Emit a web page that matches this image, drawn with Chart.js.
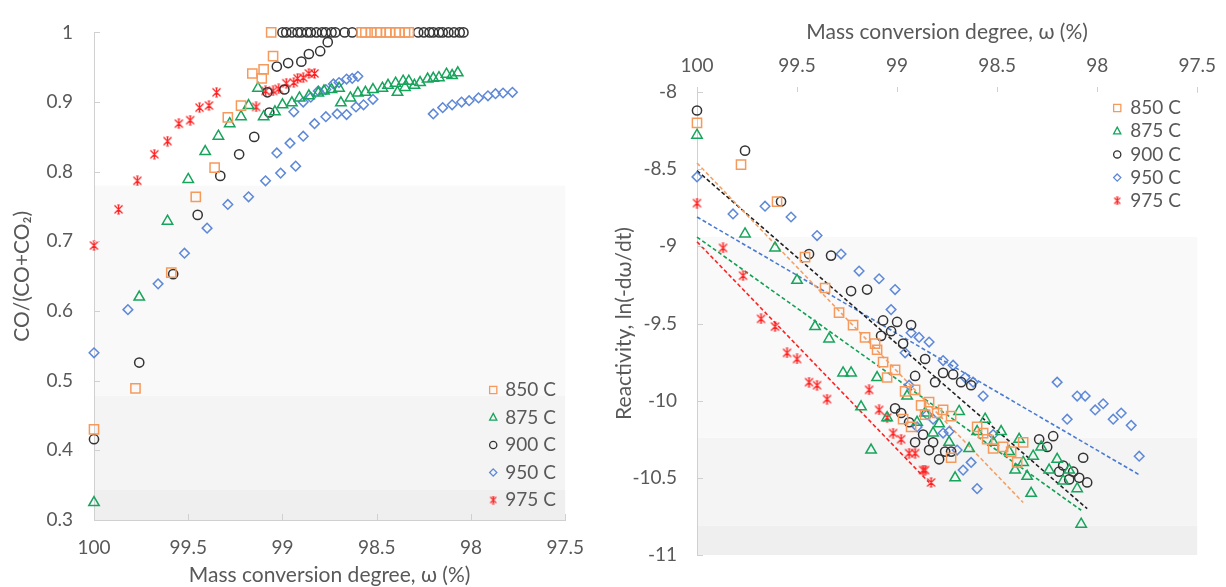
<!DOCTYPE html>
<html>
<head>
<meta charset="utf-8">
<script src="https://cdn.jsdelivr.net/npm/chart.js@4.4.1/dist/chart.umd.min.js"></script>
<style>
  html, body { margin: 0; padding: 0; background: #fff; }
  #wrap { position: relative; width: 1226px; height: 587px; }
  .panel { position: absolute; top: 0; }
</style>
</head>
<body>
<div id="wrap">
  <div class="panel" style="left:0;width:600px;height:587px"><canvas id="left" width="600" height="587"></canvas></div>
  <div class="panel" style="left:600px;width:626px;height:587px"><canvas id="right" width="626" height="587"></canvas></div>
</div>
<script>
// ---- series names ----
const series = ['850 C', '875 C', '900 C', '950 C', '975 C'];

// ---- left panel: CO/(CO+CO2) vs mass conversion degree ----
const co850x = [100, 99.78, 99.59, 99.46, 99.36, 99.29, 99.22, 99.16, 99.11, 99.10, 99.05, 99.06,
  98.58, 98.56, 98.53, 98.50, 98.48, 98.45, 98.43, 98.40, 98.38, 98.35, 98.33];
const co850y = [0.430, 0.489, 0.655, 0.764, 0.806, 0.878, 0.895, 0.941, 0.934, 0.947, 0.966, 1,
  1, 1, 1, 1, 1, 1, 1, 1, 1, 1, 1];

const co875x = [100, 99.76, 99.61, 99.50, 99.41, 99.34, 99.28, 99.22, 99.18, 99.13, 99.10, 99.04, 99.00, 98.95,
  98.91, 98.86, 98.81, 98.78, 98.74, 98.70, 98.69, 98.64, 98.60, 98.56, 98.52, 98.47, 98.44, 98.40, 98.39,
  98.36, 98.35, 98.33, 98.30, 98.27, 98.23, 98.20, 98.17, 98.13, 98.10, 98.07];
const co875y = [0.325, 0.620, 0.729, 0.789, 0.829, 0.851, 0.869, 0.879, 0.895, 0.920, 0.879, 0.886, 0.896, 0.899,
  0.906, 0.909, 0.913, 0.916, 0.918, 0.920, 0.899, 0.906, 0.913, 0.914, 0.918, 0.920, 0.924, 0.927, 0.914,
  0.930, 0.921, 0.930, 0.924, 0.928, 0.933, 0.934, 0.935, 0.940, 0.938, 0.942];

const co900x = [100, 99.76, 99.58, 99.45, 99.33, 99.23, 99.15, 99.07, 99.08, 98.99, 99.03, 98.97, 98.90, 98.86,
  98.80, 98.76, 99.00, 98.98, 98.95, 98.92, 98.90, 98.87, 98.85, 98.82, 98.79, 98.77, 98.74, 98.72, 98.67,
  98.63, 98.28, 98.25, 98.22, 98.20, 98.17, 98.15, 98.12, 98.09, 98.06, 98.04];
const co900y = [0.416, 0.526, 0.653, 0.738, 0.794, 0.825, 0.850, 0.885, 0.914, 0.918, 0.951, 0.956, 0.958, 0.969,
  0.973, 0.986, 1, 1, 1, 1, 1, 1, 1, 1, 1, 1, 1, 1, 1,
  1, 1, 1, 1, 1, 1, 1, 1, 1, 1, 1];

const co950x = [100, 99.82, 99.66, 99.52, 99.40, 99.29, 99.18, 99.09, 99.01, 98.93,
  99.03, 98.96, 98.89, 98.83, 98.77, 98.71, 98.66, 98.61, 98.57, 98.52,
  98.94, 98.89, 98.85, 98.81, 98.77, 98.73, 98.70, 98.66, 98.63, 98.60,
  98.20, 98.15, 98.10, 98.05, 98.01, 97.96, 97.91, 97.87, 97.83, 97.78];
const co950y = [0.540, 0.602, 0.639, 0.683, 0.719, 0.753, 0.764, 0.787, 0.798, 0.808,
  0.827, 0.841, 0.851, 0.869, 0.879, 0.883, 0.882, 0.893, 0.896, 0.904,
  0.886, 0.900, 0.907, 0.916, 0.918, 0.926, 0.928, 0.933, 0.934, 0.937,
  0.883, 0.892, 0.896, 0.900, 0.902, 0.906, 0.909, 0.912, 0.913, 0.914];

const co975x = [100, 99.87, 99.77, 99.68, 99.61, 99.55, 99.49, 99.44, 99.39, 99.35,
  99.14, 99.09, 99.05, 99.02, 98.98, 98.94, 98.92, 98.89, 98.86, 98.83];
const co975y = [0.694, 0.746, 0.787, 0.825, 0.844, 0.869, 0.874, 0.892, 0.895, 0.914,
  0.893, 0.916, 0.916, 0.919, 0.927, 0.928, 0.934, 0.935, 0.941, 0.941];

// ---- right panel: reactivity ln(-dw/dt) vs mass conversion degree ----
const re850x = [100, 99.78, 99.60, 99.46, 99.36, 99.29, 99.22, 99.16, 99.11, 99.10, 99.07, 99.01, 99.05, 98.96,
  98.91, 98.97, 98.93, 98.88, 98.84, 98.86, 98.80, 98.77, 98.73, 98.73, 98.60, 98.57, 98.55, 98.52, 98.47,
  98.43, 98.40, 98.37];
const re850y = [-8.20, -8.47, -8.71, -9.07, -9.27, -9.43, -9.51, -9.59, -9.63, -9.67, -9.75, -9.80, -9.85, -9.94,
  -9.93, -10.12, -10.17, -10.03, -10.01, -10.09, -10.08, -10.06, -10.10, -10.37, -10.17, -10.21, -10.25, -10.31, -10.30,
  -10.33, -10.40, -10.27];

const re875x = [100, 99.76, 99.61, 99.50, 99.41, 99.34, 99.27, 99.23, 99.10, 99.18, 99.05, 99.13, 98.95, 98.90,
  98.86, 98.82, 98.79, 98.74, 98.71, 98.69, 98.64, 98.60, 98.56, 98.52, 98.48, 98.44, 98.39, 98.41, 98.37,
  98.35, 98.33, 98.32, 98.28, 98.24, 98.20, 98.17, 98.14, 98.10, 98.08];
const re875y = [-8.28, -8.92, -9.01, -9.22, -9.52, -9.60, -9.82, -9.82, -9.85, -10.04, -10.11, -10.32, -9.97, -10.14,
  -10.08, -10.21, -10.15, -10.27, -10.50, -10.07, -10.31, -10.20, -10.12, -10.27, -10.20, -10.33, -10.25, -10.45, -10.40,
  -10.49, -10.60, -10.36, -10.30, -10.45, -10.38, -10.52, -10.45, -10.57, -10.80];

const re900x = [100, 99.76, 99.58, 99.44, 99.33, 99.23, 99.15, 99.07, 99.00, 98.93,
  99.03, 99.08, 98.97, 98.86, 98.91, 98.77, 98.72, 98.81, 98.68, 98.63,
  99.01, 98.98, 98.94, 98.91, 98.87, 98.84, 98.82, 98.79, 98.76, 98.73,
  98.29, 98.22, 98.25, 98.17, 98.19, 98.12, 98.14, 98.09, 98.07, 98.05];
const re900y = [-8.12, -8.38, -8.71, -9.05, -9.06, -9.29, -9.28, -9.48, -9.49, -9.51,
  -9.55, -9.58, -9.63, -9.73, -9.84, -9.82, -9.83, -9.88, -9.88, -9.90,
  -10.05, -10.08, -10.14, -10.27, -10.22, -10.32, -10.27, -10.38, -10.33, -10.33,
  -10.25, -10.23, -10.30, -10.42, -10.46, -10.46, -10.51, -10.50, -10.37, -10.53];

const re950x = [100, 99.82, 99.66, 99.53, 99.40, 99.28, 99.19, 99.09, 99.01, 99.03,
  98.93, 98.89, 98.84, 98.96, 98.77, 98.72, 98.66, 98.62, 98.57, 98.94,
  98.85, 98.82, 98.90, 98.77, 98.74, 98.70, 98.67, 98.63, 98.60, 98.52,
  98.20, 98.15, 98.10, 98.06, 98.01, 97.97, 97.92, 97.88, 97.83, 97.79];
const re950y = [-8.55, -8.79, -8.74, -8.81, -8.93, -9.05, -9.16, -9.21, -9.28, -9.41,
  -9.56, -9.59, -9.62, -9.69, -9.74, -9.77, -9.85, -9.88, -9.97, -9.90,
  -10.09, -10.12, -10.17, -10.21, -10.20, -10.32, -10.45, -10.40, -10.57, -10.22,
  -9.88, -10.12, -9.97, -9.97, -10.06, -10.02, -10.12, -10.08, -10.16, -10.36];

const re975x = [100, 99.87, 99.77, 99.68, 99.61, 99.55, 99.50, 99.44, 99.40, 99.35,
  99.14, 99.09, 99.05, 99.02, 98.98, 98.94, 98.91, 98.87, 98.86, 98.83];
const re975y = [-8.72, -9.01, -9.19, -9.47, -9.52, -9.69, -9.73, -9.88, -9.90, -9.99,
  -9.93, -10.06, -10.11, -10.21, -10.25, -10.34, -10.34, -10.45, -10.45, -10.53];

// linear trend lines (right panel), start/end
const fitStartX = [100, 100, 100, 100, 100];
const fitEndX = [98.37, 98.08, 98.05, 97.79, 98.84];
const fitStartY = [-8.46, -8.94, -8.51, -8.81, -8.97];
const fitEndY = [-10.66, -10.71, -10.70, -10.48, -10.53];

// ---- styling ----
const colors = ['#F59A5C', '#17A45C', '#333333', '#5E88D8', '#FF1F1F'];
const lineColors = ['#F4A064', '#12A055', '#222222', '#4A7BD0', '#FF2222'];
const textColor = '#595959';
const axisColor = '#D0D0D0';
const fontFam = "Lato, 'Noto Sans', 'DejaVu Sans', sans-serif";

// excel-like star marker: X + vertical bar with short caps
function makeStar(size, color, lw) {
  const c = document.createElement('canvas');
  c.width = size; c.height = size;
  const g = c.getContext('2d');
  g.strokeStyle = color;
  g.lineWidth = lw;
  const a = 1.5, b = size - 1.5, m = size / 2, cap = 1.3;
  g.beginPath();
  g.moveTo(a, a); g.lineTo(b, b);
  g.moveTo(b, a); g.lineTo(a, b);
  g.moveTo(m, a - 0.5); g.lineTo(m, b + 0.5);
  g.moveTo(m - cap, a - 0.5); g.lineTo(m + cap, a - 0.5);
  g.moveTo(m - cap, b + 0.5); g.lineTo(m + cap, b + 0.5);
  g.stroke();
  return c;
}
const starBig = makeStar(11, colors[4], 1.2);
const starSmall = makeStar(9, colors[4], 1.1);

const styles = ['rect', 'triangle', 'circle', 'rectRot', starBig];
const radii = [6.5, 6, 4.6, 4.8, 5];

function toPoints(xs, ys) {
  return xs.map((x, i) => ({ x: x, y: ys[i] }));
}

function scatterSet(i, xs, ys) {
  return {
    type: 'scatter',
    label: series[i],
    data: toPoints(xs, ys),
    pointStyle: styles[i],
    pointRadius: radii[i],
    pointHoverRadius: radii[i],
    borderColor: colors[i],
    backgroundColor: 'rgba(0,0,0,0)',
    borderWidth: 1.5,
    clip: false
  };
}

function fitSet(i) {
  return {
    type: 'line',
    label: series[i] + ' fit',
    data: [{ x: fitStartX[i], y: fitStartY[i] }, { x: fitEndX[i], y: fitEndY[i] }],
    borderColor: lineColors[i],
    borderWidth: 1.6,
    borderDash: [4, 2.5],
    pointRadius: 0,
    tension: 0,
    fill: false,
    clip: false
  };
}

// background shading bands (follows the original figure's grey tones)
const leftBandEdges = [1, 0.78, 0.478, 0.343, 0.3];
const rightBandEdges = [-8, -8.94, -10.24, -10.81, -11];
const bandColors = ['#FFFFFF', '#F9F9F9', '#F4F4F4', '#EFEFEF'];

const bandsPlugin = {
  id: 'bands',
  beforeDatasetsDraw(chart, args, opts) {
    const { ctx, chartArea } = chart;
    const y = chart.scales.y;
    ctx.save();
    for (let i = 0; i < opts.edges.length - 1; i++) {
      const y0 = y.getPixelForValue(opts.edges[i]);
      const y1 = y.getPixelForValue(opts.edges[i + 1]);
      ctx.fillStyle = bandColors[i];
      ctx.fillRect(chartArea.left + 1, y0, chartArea.right - chartArea.left - 1, y1 - y0);
    }
    ctx.restore();
  }
};

// tick marks that point into the plot
const innerTicksPlugin = {
  id: 'innerTicks',
  afterDraw(chart, args, opts) {
    const { ctx, chartArea } = chart;
    ctx.save();
    ctx.strokeStyle = axisColor;
    ctx.lineWidth = 1;
    ctx.beginPath();
    opts.axes.forEach(id => {
      const s = chart.scales[id];
      s.ticks.forEach(t => {
        const p = Math.round(s.getPixelForValue(t.value)) + 0.5;
        if (s.isHorizontal()) {
          ctx.moveTo(p, chartArea.bottom);
          ctx.lineTo(p, chartArea.bottom - 6);
        } else {
          ctx.moveTo(chartArea.left, p);
          ctx.lineTo(chartArea.left + 6, p);
        }
      });
    });
    ctx.stroke();
    ctx.restore();
  }
};

function drawMarker(ctx, i, x, y) {
  const r = 3.6;
  ctx.save();
  ctx.strokeStyle = colors[i];
  ctx.lineWidth = 1.3;
  ctx.beginPath();
  if (i === 0) {
    ctx.rect(x - r, y - r, 2 * r, 2 * r);
  } else if (i === 1) {
    ctx.moveTo(x, y - r - 0.5);
    ctx.lineTo(x + r, y + r * 0.75);
    ctx.lineTo(x - r, y + r * 0.75);
    ctx.closePath();
  } else if (i === 2) {
    ctx.arc(x, y, r, 0, Math.PI * 2);
  } else if (i === 3) {
    ctx.moveTo(x, y - r);
    ctx.lineTo(x + r, y);
    ctx.lineTo(x, y + r);
    ctx.lineTo(x - r, y);
    ctx.closePath();
  }
  ctx.stroke();
  if (i === 4) {
    ctx.drawImage(starSmall, x - starSmall.width / 2, y - starSmall.height / 2);
  }
  ctx.restore();
}

const legendPlugin = {
  id: 'sideLegend',
  afterDraw(chart, args, opts) {
    const { ctx, chartArea } = chart;
    ctx.save();
    ctx.font = '19px ' + fontFam;
    ctx.fillStyle = textColor;
    ctx.textBaseline = 'middle';
    ctx.textAlign = 'left';
    const base = opts.fromBottom ? chartArea.bottom - opts.dy : chartArea.top + opts.dy;
    series.forEach((name, i) => {
      const y = base + i * opts.gap;
      drawMarker(ctx, i, chartArea.right - opts.markerDx, y);
      ctx.fillText(name, chartArea.right - opts.textDx, y);
    });
    ctx.restore();
  }
};

const tickFont = { family: fontFam, size: 19 };
const titleFont = { family: fontFam, size: 21, lineHeight: 1.05 };
const fmt = v => String(Math.round(v * 100) / 100);

// ---- left chart ----
new Chart(document.getElementById('left'), {
  type: 'scatter',
  data: {
    datasets: [
      scatterSet(0, co850x, co850y),
      scatterSet(1, co875x, co875y),
      scatterSet(2, co900x, co900y),
      scatterSet(3, co950x, co950y),
      scatterSet(4, co975x, co975y)
    ]
  },
  options: {
    responsive: false,
    animation: false,
    events: [],
    layout: { padding: { top: 21, right: 23, left: 0, bottom: 0 } },
    plugins: {
      legend: { display: false },
      tooltip: { enabled: false },
      sideLegend: { fromBottom: true, dy: 130, gap: 27.5, markerDx: 72, textDx: 60 },
      bands: { edges: leftBandEdges },
      innerTicks: { axes: ['x', 'y'] }
    },
    scales: {
      x: {
        type: 'linear', position: 'bottom', reverse: true,
        min: 97.5, max: 100,
        afterFit: s => { s.height = 67; },
        ticks: { stepSize: 0.5, color: textColor, font: tickFont, padding: 16, callback: fmt, maxRotation: 0 },
        grid: { display: false, drawTicks: false },
        border: { display: true, color: axisColor, width: 1 },
        title: { display: true, text: 'Mass conversion degree, ω (%)', color: textColor, font: titleFont, padding: { top: 0, bottom: 0.5 } }
      },
      y: {
        type: 'linear', position: 'left',
        min: 0.3, max: 1,
        afterFit: s => { s.width = 94; },
        ticks: { stepSize: 0.1, color: textColor, font: tickFont, padding: 21, callback: fmt },
        grid: { display: false, drawTicks: false },
        border: { display: true, color: axisColor, width: 1 },
        title: { display: true, text: 'CO/(CO+CO₂)', color: textColor, font: titleFont, padding: { top: 11, bottom: 0 } }
      }
    }
  },
  plugins: [bandsPlugin, innerTicksPlugin, legendPlugin]
});

// ---- right chart ----
new Chart(document.getElementById('right'), {
  type: 'scatter',
  data: {
    datasets: [
      scatterSet(0, re850x, re850y),
      scatterSet(1, re875x, re875y),
      scatterSet(2, re900x, re900y),
      scatterSet(3, re950x, re950y),
      scatterSet(4, re975x, re975y),
      fitSet(0), fitSet(1), fitSet(2), fitSet(3), fitSet(4)
    ]
  },
  options: {
    responsive: false,
    animation: false,
    events: [],
    layout: { padding: { top: 0, right: 23, left: 0, bottom: 32 } },
    plugins: {
      legend: { display: false },
      tooltip: { enabled: false },
      sideLegend: { fromBottom: false, dy: 16, gap: 23.2, markerDx: 80, textDx: 67 },
      bands: { edges: rightBandEdges },
      innerTicks: { axes: ['y'] }
    },
    scales: {
      x: {
        type: 'linear', position: 'top', reverse: true,
        min: 97.5, max: 100,
        afterFit: s => { s.height = 92; },
        ticks: { stepSize: 0.5, color: textColor, font: tickFont, padding: 10, callback: fmt, maxRotation: 0 },
        grid: { display: true, drawOnChartArea: false, drawTicks: true, tickLength: 5, color: axisColor },
        border: { display: true, color: axisColor, width: 1 },
        title: { display: true, text: 'Mass conversion degree, ω (%)', color: textColor, font: titleFont, padding: { top: 21, bottom: 0 } }
      },
      y: {
        type: 'linear', position: 'left',
        min: -11, max: -8,
        afterFit: s => { s.width = 97; },
        ticks: { stepSize: 0.5, color: textColor, font: tickFont, padding: 20, callback: fmt },
        grid: { display: false, drawTicks: false },
        border: { display: true, color: axisColor, width: 1 },
        title: { display: true, text: 'Reactivity, ln(-dω/dt)', color: textColor, font: titleFont, padding: { top: 13.5, bottom: 0 } }
      }
    }
  },
  plugins: [bandsPlugin, innerTicksPlugin, legendPlugin]
});
</script>
</body>
</html>
